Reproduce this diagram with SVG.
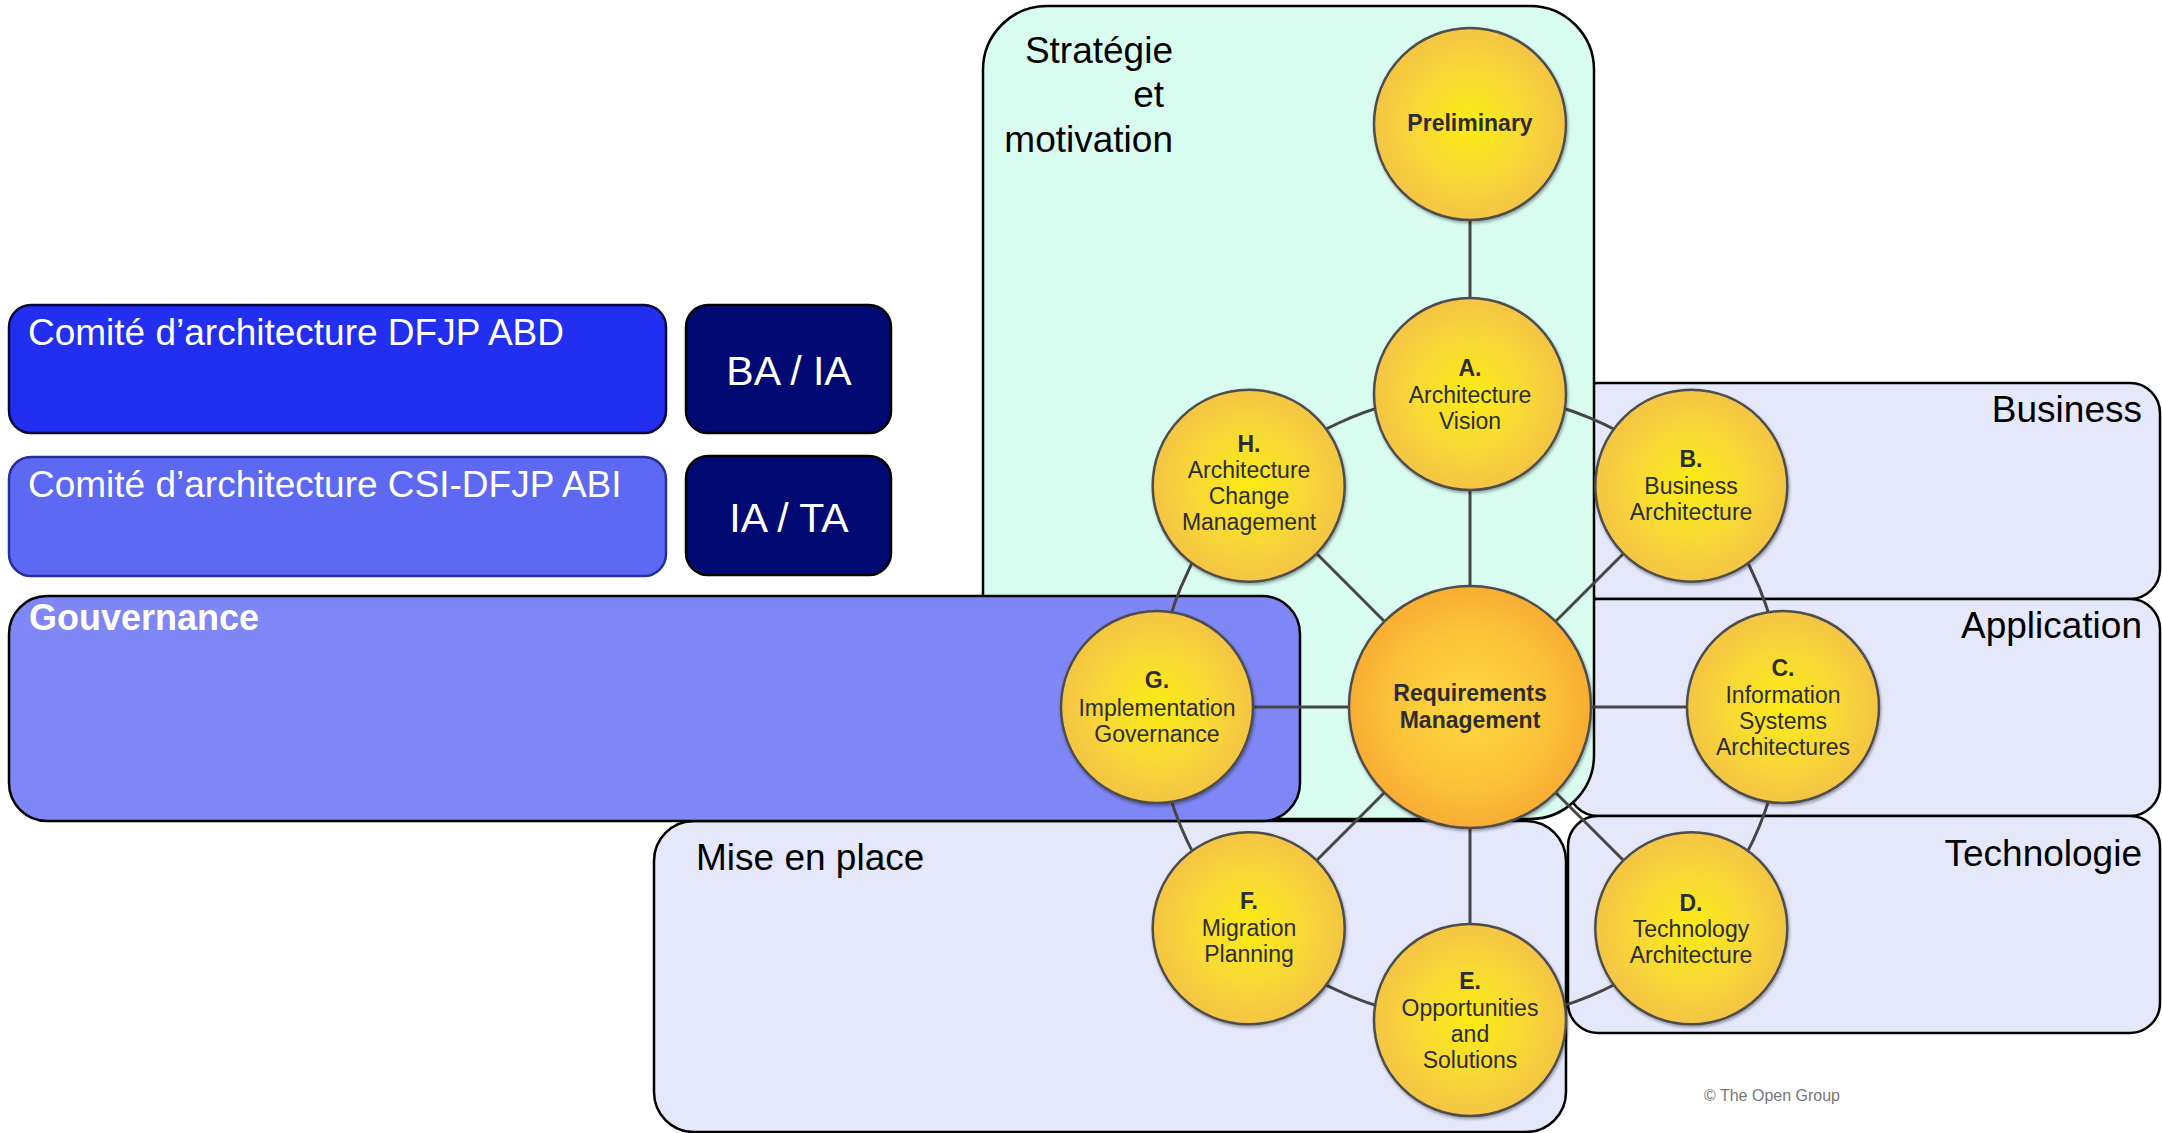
<svg xmlns="http://www.w3.org/2000/svg" width="2162" height="1133" viewBox="0 0 2162 1133">
<defs>
<radialGradient id="gy" cx="50%" cy="50%" r="50%">
<stop offset="0" stop-color="#fcec14"/>
<stop offset="0.55" stop-color="#f8d935"/>
<stop offset="1" stop-color="#f4c545"/>
</radialGradient>
<radialGradient id="go" cx="50%" cy="50%" r="50%">
<stop offset="0" stop-color="#fed83f"/>
<stop offset="0.6" stop-color="#fbc53a"/>
<stop offset="1" stop-color="#f8ad33"/>
</radialGradient>
<filter id="sh" x="-10%" y="-10%" width="125%" height="125%">
<feDropShadow dx="1" dy="2" stdDeviation="1.5" flood-color="#000" flood-opacity="0.35"/>
</filter>
<style>
.lav{fill:#e5e8fb;stroke:#000;stroke-width:2.5}
.strat{fill:#d9fcf0;stroke:#000;stroke-width:2.5}
.gov{fill:#7f86f5;stroke:#000;stroke-width:2.5}
.c1{fill:#222ef0;stroke:#0a0a3a;stroke-width:2.5}
.c2{fill:#5d69f2;stroke:#25309a;stroke-width:2.5}
.navy{fill:#010a73;stroke:#000;stroke-width:2.5}
.lbl{font-family:"Liberation Sans",Arial,sans-serif;font-size:37px;fill:#000}
.wl{font-family:"Liberation Sans",Arial,sans-serif;font-size:37px;fill:#fff}
.wb{font-family:"Liberation Sans",Arial,sans-serif;font-size:41px;fill:#fff;text-anchor:middle}
.conn{fill:none;stroke:#464646;stroke-width:3}
.ph{fill:url(#gy);stroke:#4d4d4d;stroke-width:2.5;filter:url(#sh)}
.rq{fill:url(#go);stroke:#4d4d4d;stroke-width:2.5;filter:url(#sh)}
.ct{font-family:"Liberation Sans",Arial,sans-serif;font-size:23px;fill:#2d2d2d;text-anchor:middle}
.b{font-weight:bold}
</style>
</defs>
<rect width="2162" height="1133" fill="#fff"/>

<g id="business"><rect class="lav" x="1568" y="383" width="592" height="216" rx="30"/><text class="lbl" x="2142" y="422" text-anchor="end">Business</text></g>
<g id="application"><rect class="lav" x="1568" y="599" width="592" height="217" rx="30"/><text class="lbl" x="2142" y="638" text-anchor="end">Application</text></g>
<g id="technologie"><rect class="lav" x="1568" y="816" width="592" height="217" rx="30"/><text class="lbl" x="2142" y="866" text-anchor="end">Technologie</text></g>
<g id="strategie"><rect class="strat" x="983" y="6" width="611" height="813" rx="64"/>
<text class="lbl" text-anchor="end"><tspan x="1173" y="63">Stratégie</tspan><tspan x="1164" y="107">et</tspan><tspan x="1173" y="152">motivation</tspan></text></g>
<g id="mise"><rect class="lav" x="654" y="821" width="912" height="311" rx="40"/><text class="lbl" x="696" y="870">Mise en place</text></g>
<g id="gouvernance"><rect class="gov" x="9" y="596" width="1291" height="225" rx="38"/><text class="wl b" x="29" y="630" style="font-size:36px;font-weight:bold">Gouvernance</text></g>
<g id="comite-abd"><rect class="c1" x="9" y="305" width="657" height="128" rx="22"/><text class="wl" x="28" y="345">Comité d’architecture DFJP ABD</text></g>
<g id="ba-ia"><rect class="navy" x="686" y="305" width="205" height="128" rx="22"/><text class="wb" x="789" y="385">BA / IA</text></g>
<g id="comite-abi"><rect class="c2" x="9" y="457" width="657" height="119" rx="22"/><text class="wl" x="28" y="497">Comité d’architecture CSI-DFJP ABI</text></g>
<g id="ia-ta"><rect class="navy" x="686" y="456" width="205" height="119" rx="22"/><text class="wb" x="789" y="532">IA / TA</text></g>

<g id="connectors">
<line class="conn" x1="1470" y1="124" x2="1470" y2="394"/>
<line class="conn" x1="1470" y1="707" x2="1470" y2="394"/>
<line class="conn" x1="1470" y1="707" x2="1691.3" y2="485.7"/>
<line class="conn" x1="1470" y1="707" x2="1783" y2="707"/>
<line class="conn" x1="1470" y1="707" x2="1691.3" y2="928.3"/>
<line class="conn" x1="1470" y1="707" x2="1470" y2="1020"/>
<line class="conn" x1="1470" y1="707" x2="1248.7" y2="928.3"/>
<line class="conn" x1="1470" y1="707" x2="1157" y2="707"/>
<line class="conn" x1="1470" y1="707" x2="1248.7" y2="485.7"/>
<path class="conn" d="M1470,394 A313,313 0 0 1 1691.3,485.7"/>
<path class="conn" d="M1691.3,485.7 A313,313 0 0 1 1783,707"/>
<path class="conn" d="M1783,707 A313,313 0 0 1 1691.3,928.3"/>
<path class="conn" d="M1691.3,928.3 A313,313 0 0 1 1470,1020"/>
<path class="conn" d="M1470,1020 A313,313 0 0 1 1248.7,928.3"/>
<path class="conn" d="M1248.7,928.3 A313,313 0 0 1 1157,707"/>
<path class="conn" d="M1157,707 A313,313 0 0 1 1248.7,485.7"/>
<path class="conn" d="M1248.7,485.7 A313,313 0 0 1 1470,394"/>
</g>

<g id="preliminary"><circle class="ph" cx="1470" cy="124" r="96"/><text class="ct b" x="1470" y="131">Preliminary</text></g>
<g id="phase-a"><circle class="ph" cx="1470" cy="394" r="96"/><text class="ct"><tspan class="b" x="1470" y="376">A.</tspan><tspan x="1470" y="403">Architecture</tspan><tspan x="1470" y="429">Vision</tspan></text></g>
<g id="phase-b"><circle class="ph" cx="1691.3" cy="485.7" r="96"/><text class="ct"><tspan class="b" x="1691" y="467">B.</tspan><tspan x="1691" y="494">Business</tspan><tspan x="1691" y="520">Architecture</tspan></text></g>
<g id="phase-c"><circle class="ph" cx="1783" cy="707" r="96"/><text class="ct"><tspan class="b" x="1783" y="676">C.</tspan><tspan x="1783" y="703">Information</tspan><tspan x="1783" y="729">Systems</tspan><tspan x="1783" y="755">Architectures</tspan></text></g>
<g id="phase-d"><circle class="ph" cx="1691.3" cy="928.3" r="96"/><text class="ct"><tspan class="b" x="1691" y="911">D.</tspan><tspan x="1691" y="937">Technology</tspan><tspan x="1691" y="963">Architecture</tspan></text></g>
<g id="phase-e"><circle class="ph" cx="1470" cy="1020" r="96"/><text class="ct"><tspan class="b" x="1470" y="989">E.</tspan><tspan x="1470" y="1016">Opportunities</tspan><tspan x="1470" y="1042">and</tspan><tspan x="1470" y="1068">Solutions</tspan></text></g>
<g id="phase-f"><circle class="ph" cx="1248.7" cy="928.3" r="96"/><text class="ct"><tspan class="b" x="1249" y="909">F.</tspan><tspan x="1249" y="936">Migration</tspan><tspan x="1249" y="962">Planning</tspan></text></g>
<g id="phase-g"><circle class="ph" cx="1157" cy="707" r="96"/><text class="ct"><tspan class="b" x="1157" y="688">G.</tspan><tspan x="1157" y="716">Implementation</tspan><tspan x="1157" y="742">Governance</tspan></text></g>
<g id="phase-h"><circle class="ph" cx="1248.7" cy="485.7" r="96"/><text class="ct"><tspan class="b" x="1249" y="452">H.</tspan><tspan x="1249" y="478">Architecture</tspan><tspan x="1249" y="504">Change</tspan><tspan x="1249" y="530">Management</tspan></text></g>
<g id="requirements"><circle class="rq" cx="1470" cy="707" r="121"/><text class="ct b"><tspan x="1470" y="701">Requirements</tspan><tspan x="1470" y="728">Management</tspan></text></g>

<text x="1704" y="1101" font-family="Liberation Sans, Arial, sans-serif" font-size="16" fill="#777">© The Open Group</text>
</svg>
